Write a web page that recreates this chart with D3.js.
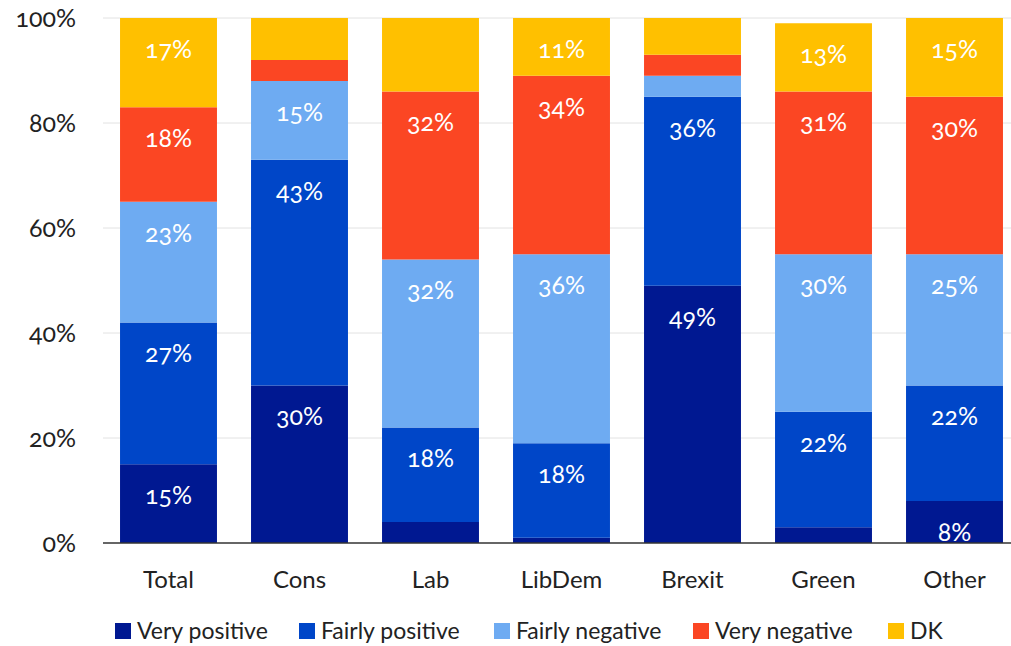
<!DOCTYPE html>
<html>
<head>
<meta charset="utf-8">
<script src="https://cdn.jsdelivr.net/npm/d3@7"></script>
<style>
  body { margin: 0; background: #fff; }
  text { font-family: Lato, "Open Sans", sans-serif; font-variant-numeric: oldstyle-nums; }
</style>
</head>
<body>
<script>
var width = 1011, height = 646;

// data
var categories = ["Total", "Cons", "Lab", "LibDem", "Brexit", "Green", "Other"];
var seriesNames = ["Very positive", "Fairly positive", "Fairly negative", "Very negative", "DK"];
var veryPositive   = [15, 30, 4, 1, 49, 3, 8];
var fairlyPositive = [27, 43, 18, 18, 36, 22, 22];
var fairlyNegative = [23, 15, 32, 36, 4, 30, 25];
var veryNegative   = [18, 4, 32, 34, 4, 31, 30];
var dk             = [17, 8, 14, 11, 7, 13, 15];
// which segments carry a value label
var showVP = [1, 1, 0, 0, 1, 0, 1];
var showFP = [1, 1, 1, 1, 1, 1, 1];
var showFN = [1, 1, 1, 1, 0, 1, 1];
var showVN = [1, 0, 1, 1, 0, 1, 1];
var showDK = [1, 0, 0, 1, 0, 1, 1];
var yTicks = [0, 20, 40, 60, 80, 100];

var colors = ["#001891", "#0046c8", "#6eabf2", "#fb4623", "#ffc000"];
var seriesValues = [veryPositive, fairlyPositive, fairlyNegative, veryNegative, dk];
var seriesShow = [showVP, showFP, showFN, showVN, showDK];

var table = categories.map(function(c, i) {
  var row = { cat: c };
  seriesNames.forEach(function(s, j) { row[s] = seriesValues[j][i]; });
  return row;
});

var svg = d3.select("body").append("svg")
  .attr("width", width)
  .attr("height", height);

var x = d3.scaleBand()
  .domain(categories)
  .range([103, 1020])
  .paddingInner(0.26)
  .paddingOuter(0.13);

var y = d3.scaleLinear()
  .domain([0, 100])
  .range([543, 18]);

// gridlines
svg.append("g")
  .selectAll("line")
  .data(yTicks.slice(1))
  .enter().append("line")
  .attr("x1", 103).attr("x2", 1011)
  .attr("y1", function(d) { return y(d); })
  .attr("y2", function(d) { return y(d); })
  .attr("stroke", "#e2e2e2")
  .attr("stroke-width", 1);

// y labels
svg.append("g")
  .selectAll("text")
  .data(yTicks)
  .enter().append("text")
  .attr("x", 76)
  .attr("y", function(d) { return y(d); })
  .attr("dy", "0.35em")
  .attr("text-anchor", "end")
  .attr("font-size", 25)
  .attr("fill", "#222")
  .text(function(d) { return d + "%"; });

var stack = d3.stack().keys(seriesNames);
var layers = stack(table);

var layer = svg.selectAll(".layer")
  .data(layers)
  .enter().append("g")
  .attr("class", "layer")
  .attr("fill", function(d, i) { return colors[i]; });

layer.selectAll("rect")
  .data(function(d) { return d; })
  .enter().append("rect")
  .attr("x", function(d) { return x(d.data.cat); })
  .attr("width", x.bandwidth())
  .attr("y", function(d) { return y(d[1]); })
  .attr("height", function(d) { return y(d[0]) - y(d[1]); });

layers.forEach(function(l, j) {
  svg.append("g")
    .selectAll("text")
    .data(l.filter(function(d, i) { return seriesShow[j][i]; }))
    .enter().append("text")
    .attr("x", function(d) { return x(d.data.cat) + x.bandwidth() / 2; })
    .attr("y", function(d) { return y(d[1]) + 31; })
    .attr("dy", "0.35em")
    .attr("text-anchor", "middle")
    .attr("font-size", 25)
    .attr("fill", "#fff")
    .text(function(d) { return (d[1] - d[0]) + "%"; });
});

// baseline
svg.append("line")
  .attr("x1", 103).attr("x2", 1011)
  .attr("y1", y(0)).attr("y2", y(0))
  .attr("stroke", "#333")
  .attr("stroke-width", 1.5);

// x labels
svg.append("g")
  .selectAll("text")
  .data(categories)
  .enter().append("text")
  .attr("x", function(d) { return x(d) + x.bandwidth() / 2; })
  .attr("y", 580)
  .attr("dy", "0.35em")
  .attr("text-anchor", "middle")
  .attr("font-size", 24)
  .attr("fill", "#222")
  .text(function(d) { return d; });

// legend
var legendX = [115, 299, 494, 693, 888];
var legend = svg.append("g")
  .selectAll("g")
  .data(seriesNames)
  .enter().append("g")
  .attr("transform", function(d, i) { return "translate(" + legendX[i] + ",631)"; });

legend.append("rect")
  .attr("x", 0).attr("y", -8)
  .attr("width", 16).attr("height", 16)
  .attr("fill", function(d, i) { return colors[i]; });

legend.append("text")
  .attr("x", 22)
  .attr("y", 0)
  .attr("dy", "0.35em")
  .attr("font-size", 23)
  .attr("fill", "#222")
  .text(function(d) { return d; });
</script>
</body>
</html>
